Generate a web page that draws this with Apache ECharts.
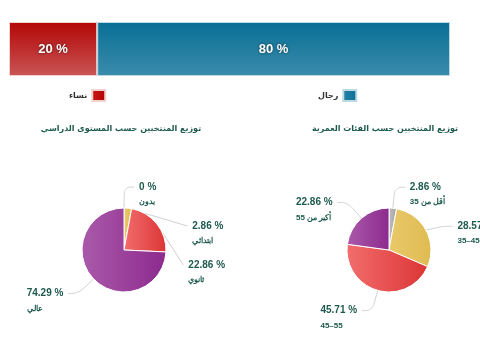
<!DOCTYPE html>
<html><head><meta charset="utf-8">
<script src="https://cdn.jsdelivr.net/npm/echarts@6/dist/echarts.min.js"></script>
<style>html,body{margin:0;padding:0;background:#fff}#c{width:480px;height:360px}</style>
</head><body><div id="c"></div>
<script>
var genderNames = ['نساء', 'رجال'];
var genderValues = [20, 80];
var eduNames = ['بدون', 'ابتدائي', 'ثانوي', 'عالي'];
var eduValues = [0, 2.86, 22.86, 74.29];
var ageNames = ['أقل من 35', '35–45', '45–55', 'أكبر من 55'];
var ageValues = [2.86, 28.57, 45.71, 22.86];
var eduTitle = 'توزيع المنتخبين حسب المستوى الدراسي';
var ageTitle = 'توزيع المنتخبين حسب الفئات العمرية';

function hgrad(a, b) {
  return new echarts.graphic.LinearGradient(0, 0, 1, 0, [{offset: 0, color: a}, {offset: 1, color: b}]);
}
function vgrad(a, b) {
  return new echarts.graphic.LinearGradient(0, 0, 0, 1, [{offset: 0, color: a}, {offset: 1, color: b}]);
}
var pieColors = [
  hgrad('#bdbdbd', '#a5a5a5'),
  hgrad('#e9c96a', '#dfbb52'),
  hgrad('#f26d6d', '#dc3535'),
  hgrad('#aa5aaa', '#8c2a8e')
];
var labelCfg = {
  overflow: 'none',
  padding: [26, 0, 0, 0],
  formatter: function (p) { return '{v|' + p.value + ' %}\n{n|' + p.name + '}\n{e|\u00a0}'; },
  rich: {
    v: {fontSize: 10, fontWeight: 'bold', color: '#1d5a4e', fontFamily: 'Liberation Sans', lineHeight: 15, align: 'left'},
    n: {fontSize: 8, fontWeight: 'bold', color: '#1d5a4e', fontFamily: 'Liberation Sans', lineHeight: 15, align: 'left'},
    e: {fontSize: 8, lineHeight: 11, color: 'rgba(0,0,0,0)'}
  }
};
function pieData(names, values) {
  return names.map(function (n, i) {
    return {name: n, value: values[i], itemStyle: {color: pieColors[i]}};
  });
}
var legendText = {fontSize: 8, fontWeight: 'bold', color: '#333', fontFamily: 'DejaVu Sans'};
var lineCfg = {length: 21, length2: 10, smooth: 0.4, lineStyle: {color: '#d0d0d0', width: 1}};
var chart = echarts.init(document.getElementById('c'));
chart.setOption({
  animation: false,
  title: [
    {text: eduTitle, left: 116, top: 120, textAlign: 'center',
     textStyle: {fontSize: 8, fontWeight: 'bold', color: '#1d5a4e', fontFamily: 'DejaVu Sans'}},
    {text: ageTitle, left: 380, top: 120, textAlign: 'center',
     textStyle: {fontSize: 8, fontWeight: 'bold', color: '#1d5a4e', fontFamily: 'DejaVu Sans'}}
  ],
  legend: [
    {data: [{name: genderNames[0], itemStyle: {color: hgrad('#c91a1a', '#b30000')}}], left: 64, top: 84, align: 'right', icon: 'rect', itemWidth: 13, itemHeight: 11, itemGap: 4, textStyle: legendText},
    {data: [{name: genderNames[1], itemStyle: {color: hgrad('#2a82a6', '#0a6f96')}}], left: 313, top: 84, align: 'right', icon: 'rect', itemWidth: 13, itemHeight: 11, itemGap: 4, textStyle: legendText}
  ],
  grid: {left: 9, right: 30, top: 22, height: 54},
  xAxis: {type: 'value', max: 100, show: false},
  yAxis: {type: 'category', data: [''], show: false},
  series: [
    {type: 'bar', name: genderNames[0], stack: 'g', barWidth: 54, data: [genderValues[0]],
     itemStyle: {color: vgrad('#b40606', '#c95555'), borderColor: '#f3d0d0', borderWidth: 1},
     label: {show: true, formatter: '{c} %', color: '#fff', fontSize: 13, fontWeight: 'bold', fontFamily: 'Liberation Sans',
       textShadowColor: 'rgba(0,0,0,0.6)', textShadowBlur: 3}},
    {type: 'bar', name: genderNames[1], stack: 'g', barWidth: 54, data: [genderValues[1]],
     itemStyle: {color: vgrad('#096f96', '#3a8cab'), borderColor: '#bcd9e4', borderWidth: 1},
     label: {show: true, formatter: '{c} %', color: '#fff', fontSize: 13, fontWeight: 'bold', fontFamily: 'Liberation Sans',
       textShadowColor: 'rgba(0,0,0,0.6)', textShadowBlur: 3}},
    {type: 'pie', center: [124, 250], radius: 42, startAngle: 89.9, clockwise: true,
     data: pieData(eduNames, eduValues), minShowLabelAngle: -1,
     itemStyle: {borderColor: '#fff', borderWidth: 1},
     label: labelCfg, labelLine: lineCfg},
    {type: 'pie', center: [389, 250], radius: 42, startAngle: 89.9, clockwise: true,
     data: pieData(ageNames, ageValues),
     itemStyle: {borderColor: '#fff', borderWidth: 1},
     label: labelCfg, labelLine: lineCfg}
  ]
});
</script></body></html>
